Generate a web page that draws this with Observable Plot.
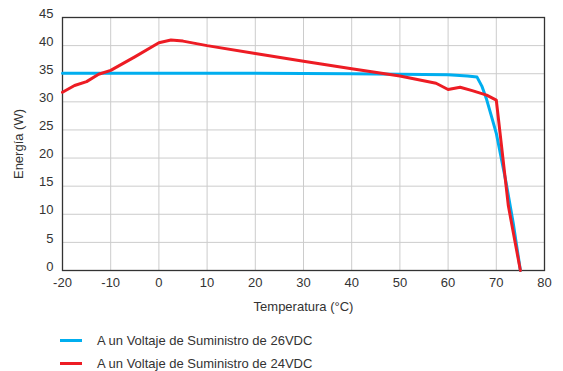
<!DOCTYPE html>
<html>
<head>
<meta charset="utf-8">
<script src="https://cdn.jsdelivr.net/npm/d3@7"></script>
<script src="https://cdn.jsdelivr.net/npm/@observablehq/plot@0.6"></script>
<style>
  body { margin: 0; background: #fff; font-family: "Liberation Sans", Arial, Helvetica, sans-serif; }
  #chart { width: 563px; height: 371px; position: relative; }
  .legend { position: absolute; left: 60px; font-size: 13px; color: #333; }
  .legend .item { display: flex; align-items: center; height: 23px; }
  .legend .sw { width: 22px; height: 3px; margin-right: 15px; }
</style>
</head>
<body>
<div id="chart"></div>
<script>
const xTicks = [-20, -10, 0, 10, 20, 30, 40, 50, 60, 70, 80];
const yTicks = [0, 5, 10, 15, 20, 25, 30, 35, 40, 45];

const seriesNames = ["A un Voltaje de Suministro de 26VDC", "A un Voltaje de Suministro de 24VDC"];
const seriesColors = ["#00aeef", "#ed1c24"];

const temps26 = [-20, 0, 20, 40, 50, 60, 64, 66, 67, 68, 69, 70, 72, 73.5, 75];
const energy26 = [35.1, 35.1, 35.1, 35.0, 34.9, 34.8, 34.6, 34.4, 32.8, 30.4, 27.4, 24.4, 15.8, 8.5, 0];

const temps24 = [-20, -17.5, -15, -12.5, -10, -5, 0, 2.5, 5, 10, 20, 30, 40, 50, 57.5, 60, 62.5, 65, 68, 70, 72.5, 75];
const energy24 = [31.7, 32.9, 33.6, 34.9, 35.6, 38.0, 40.5, 41.0, 40.8, 40.0, 38.6, 37.2, 35.9, 34.6, 33.3, 32.2, 32.6, 32.0, 31.2, 30.3, 11.5, 0];

const data26 = temps26.map((t, i) => ({t, e: energy26[i]}));
const data24 = temps24.map((t, i) => ({t, e: energy24[i]}));

const plot = Plot.plot({
  width: 563,
  height: 315,
  marginLeft: 62,
  marginRight: 19,
  marginTop: 17,
  marginBottom: 45,
  style: { fontFamily: '"Liberation Sans", Arial, Helvetica, sans-serif', fontSize: "13px", color: "#333", background: "#fff" },
  x: { domain: [-20, 80] },
  y: { domain: [0, 45] },
  marks: [
    Plot.gridX(xTicks, { stroke: "#cccccc", strokeOpacity: 1, strokeWidth: 1 }),
    Plot.gridY(yTicks, { stroke: "#cccccc", strokeOpacity: 1, strokeWidth: 1 }),
    Plot.axisX(xTicks, { tickSize: 0, tickPadding: 7, fontSize: 13, tickFormat: d => String(d), label: "Temperatura (°C)", labelAnchor: "center", labelArrow: "none", labelOffset: 40 }),
    Plot.axisY(yTicks, { tickSize: 0, tickPadding: 9, fontSize: 13, dy: -4, tickFormat: d => String(d), label: "Energía (W)", labelAnchor: "center", labelArrow: "none", labelOffset: 49 }),
    Plot.frame({ stroke: "#333", strokeWidth: 1.3 }),
    Plot.line(data26, { x: "t", y: "e", stroke: seriesColors[0], strokeWidth: 3, curve: "linear" }),
    Plot.line(data24, { x: "t", y: "e", stroke: seriesColors[1], strokeWidth: 3, curve: "linear" })
  ]
});
const chart = document.getElementById("chart");
chart.appendChild(plot);

const legend = document.createElement("div");
legend.className = "legend";
legend.style.top = "329px";
seriesNames.forEach((name, i) => {
  const it = document.createElement("div");
  it.className = "item";
  const sw = document.createElement("span");
  sw.className = "sw";
  sw.style.background = seriesColors[i];
  const tx = document.createElement("span");
  tx.textContent = name;
  it.appendChild(sw);
  it.appendChild(tx);
  legend.appendChild(it);
});
chart.appendChild(legend);
</script>
</body>
</html>
